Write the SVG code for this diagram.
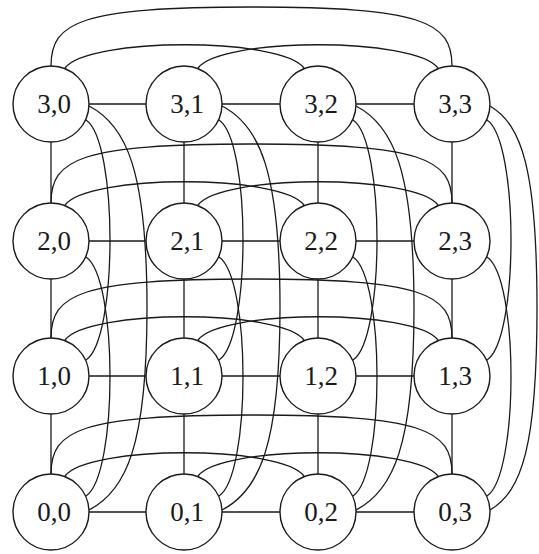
<svg xmlns="http://www.w3.org/2000/svg" width="539" height="554" viewBox="0 0 539 554">
<style>
.e{fill:none;stroke:#1a1a1a;stroke-width:1.3}
.n circle{fill:#fff;stroke:#1a1a1a;stroke-width:1.4}
.n text{font-family:"Liberation Serif","Times New Roman",serif;font-size:27px;fill:#1a1a1a;text-anchor:middle}
</style>
<rect width="539" height="554" fill="#fff"/>
<g id="connectors" class="e">
<path d="M89,104H146M222,104H280M356,104H414"/>
<path d="M89,241H146M222,241H280M356,241H414"/>
<path d="M89,376H146M222,376H280M356,376H414"/>
<path d="M89,512H146M222,512H280M356,512H414"/>
<path d="M51,142V203M51,279V338M51,414V474"/>
<path d="M184,142V203M184,279V338M184,414V474"/>
<path d="M318,142V203M318,279V338M318,414V474"/>
<path d="M452,142V203M452,279V338M452,414V474"/>
<path d="M51,66C51,22 80,7 251.5,7C423,7 452,22 452,66"/>
<path d="M65,68C88,37 281,37 304,68"/>
<path d="M198,68C221,37 415,37 438,68"/>
<path d="M51,203C51,159 80,144 251.5,144C423,144 452,159 452,203"/>
<path d="M65,205C88,174 281,174 304,205"/>
<path d="M198,205C221,174 415,174 438,205"/>
<path d="M51,338C51,294 80,279 251.5,279C423,279 452,294 452,338"/>
<path d="M65,340C88,309 281,309 304,340"/>
<path d="M198,340C221,309 415,309 438,340"/>
<path d="M51,474C51,430 80,415 251.5,415C423,415 452,430 452,474"/>
<path d="M65,476C88,445 281,445 304,476"/>
<path d="M198,476C221,445 415,445 438,476"/>
<path d="M89,106C126,125 147,170 147,308C147,446 126,491 89,510"/>
<path d="M86,120C118,141 118,339 86,360"/>
<path d="M86,257C118,278 118,475 86,496"/>
<path d="M222,106C259,125 280,170 280,308C280,446 259,491 222,510"/>
<path d="M219,120C251,141 251,339 219,360"/>
<path d="M219,257C251,278 251,475 219,496"/>
<path d="M356,106C393,125 414,170 414,308C414,446 393,491 356,510"/>
<path d="M353,120C385,141 385,339 353,360"/>
<path d="M353,257C385,278 385,475 353,496"/>
<path d="M490,106C522,125 537,170 537,308C537,446 522,491 490,510"/>
<path d="M487,120C519,141 519,339 487,360"/>
<path d="M487,257C519,278 519,475 487,496"/>
</g>
<g id="n30" class="n"><circle cx="51" cy="104" r="38"/><text x="54" y="113">3,0</text></g>
<g id="n31" class="n"><circle cx="184" cy="104" r="38"/><text x="187" y="113">3,1</text></g>
<g id="n32" class="n"><circle cx="318" cy="104" r="38"/><text x="321" y="113">3,2</text></g>
<g id="n33" class="n"><circle cx="452" cy="104" r="38"/><text x="455" y="113">3,3</text></g>
<g id="n20" class="n"><circle cx="51" cy="241" r="38"/><text x="54" y="250">2,0</text></g>
<g id="n21" class="n"><circle cx="184" cy="241" r="38"/><text x="187" y="250">2,1</text></g>
<g id="n22" class="n"><circle cx="318" cy="241" r="38"/><text x="321" y="250">2,2</text></g>
<g id="n23" class="n"><circle cx="452" cy="241" r="38"/><text x="455" y="250">2,3</text></g>
<g id="n10" class="n"><circle cx="51" cy="376" r="38"/><text x="54" y="385">1,0</text></g>
<g id="n11" class="n"><circle cx="184" cy="376" r="38"/><text x="187" y="385">1,1</text></g>
<g id="n12" class="n"><circle cx="318" cy="376" r="38"/><text x="321" y="385">1,2</text></g>
<g id="n13" class="n"><circle cx="452" cy="376" r="38"/><text x="455" y="385">1,3</text></g>
<g id="n00" class="n"><circle cx="51" cy="512" r="38"/><text x="54" y="521">0,0</text></g>
<g id="n01" class="n"><circle cx="184" cy="512" r="38"/><text x="187" y="521">0,1</text></g>
<g id="n02" class="n"><circle cx="318" cy="512" r="38"/><text x="321" y="521">0,2</text></g>
<g id="n03" class="n"><circle cx="452" cy="512" r="38"/><text x="455" y="521">0,3</text></g>
</svg>
